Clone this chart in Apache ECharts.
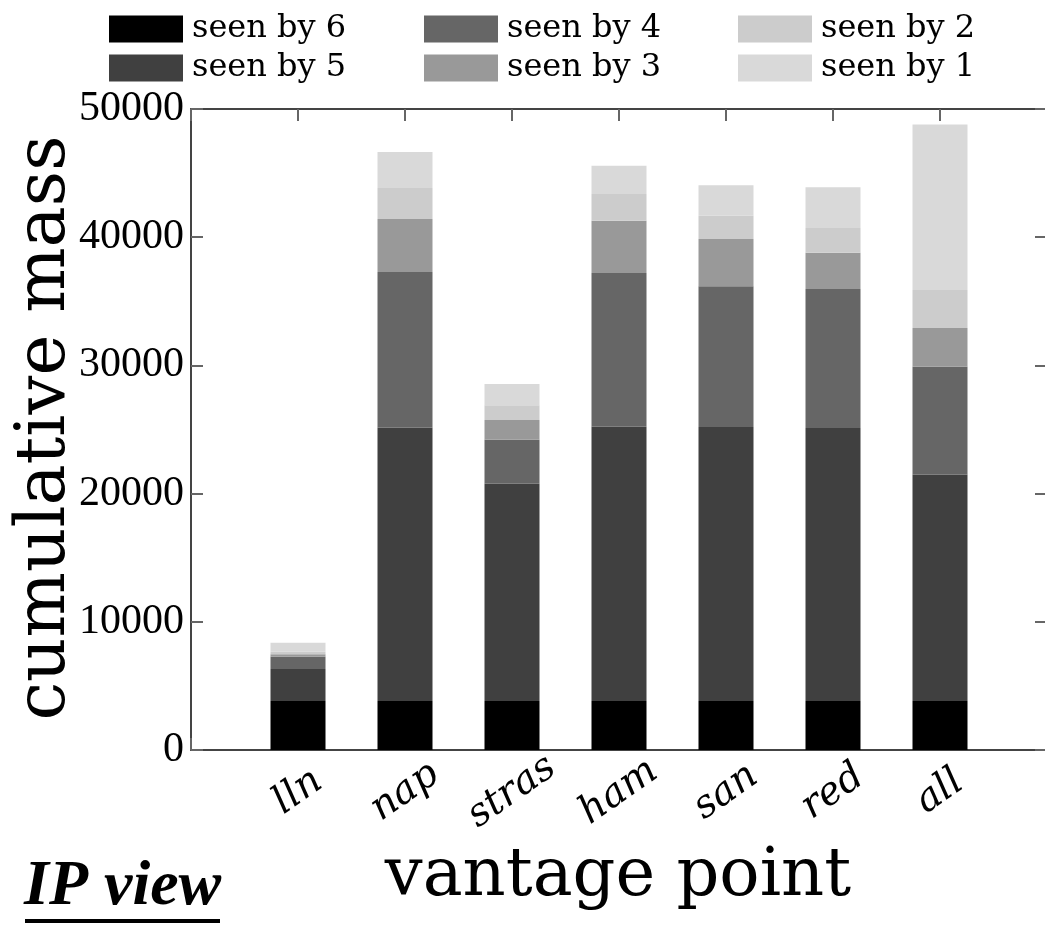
<!DOCTYPE html>
<html>
<head>
<meta charset="utf-8">
<script src="https://cdn.jsdelivr.net/npm/echarts@6/dist/echarts.min.js"></script>
<style>html,body{margin:0;padding:0;background:#fff;overflow:hidden}#c{width:1045px;height:927px}</style>
</head>
<body>
<div id="c"></div>
<script>
const categories = ['lln', 'nap', 'stras', 'ham', 'san', 'red', 'all'];
const seenBy6 = [3820, 3820, 3820, 3820, 3820, 3820, 3820];
const seenBy5 = [2490, 21320, 16950, 21400, 21380, 21300, 17660];
const seenBy4 = [960, 12145, 3430, 11990, 10970, 10840, 8420];
const seenBy3 = [190, 4135, 1540, 4080, 3690, 2830, 3020];
const seenBy2 = [200, 2420, 1150, 2080, 1820, 1930, 2960];
const seenBy1 = [700, 2805, 1660, 2210, 2370, 3170, 12920];
const yTicks = [0, 10000, 20000, 30000, 40000, 50000];

const seriesDefs = [
  ['seen by 6', seenBy6, '#000000'],
  ['seen by 5', seenBy5, '#404040'],
  ['seen by 4', seenBy4, '#666666'],
  ['seen by 3', seenBy3, '#999999'],
  ['seen by 2', seenBy2, '#cccccc'],
  ['seen by 1', seenBy1, '#d9d9d9']
];
const padded = ['', ...categories, ''];
const pad = arr => [null, ...arr, null];

const serif = 'DejaVu Serif';
const axisLineStyle = { color: '#444', width: 2 };
const tickStyle = { color: '#666', width: 2 };

const legendBase = (left, names) => ({
  orient: 'vertical', left: left, top: 13, padding: 0,
  itemWidth: 74, itemHeight: 27, itemGap: 7, icon: 'rect',
  data: names, selectedMode: false,
  textStyle: { fontFamily: serif, fontSize: 32, color: '#000', padding: [0, 0, 0, 4] }
});

const chart = echarts.init(document.getElementById('c'), null, { renderer: 'canvas' });
chart.setOption({
  animation: false,
  backgroundColor: '#fff',
  legend: [
    legendBase(109, ['seen by 6', 'seen by 5']),
    legendBase(424, ['seen by 4', 'seen by 3']),
    legendBase(738, ['seen by 2', 'seen by 1'])
  ],
  grid: { left: 191, top: 109, right: -2, bottom: 177, containLabel: false, outerBoundsMode: 'none' },
  xAxis: [{
    type: 'category', data: padded, boundaryGap: false, position: 'bottom',
    axisLine: { onZero: false, lineStyle: axisLineStyle },
    axisTick: { inside: true, length: 12, lineStyle: tickStyle },
    axisLabel: {
      interval: 0, rotate: 35, align: 'center', verticalAlign: 'middle', margin: 42,
      fontFamily: serif, fontStyle: 'italic', fontSize: 39, color: '#000'
    },
    splitLine: { show: false }
  }, {
    type: 'category', data: padded, boundaryGap: false, position: 'top',
    axisLine: { onZero: false, lineStyle: axisLineStyle },
    axisTick: { inside: true, length: 12, lineStyle: tickStyle },
    axisLabel: { show: false }, splitLine: { show: false }
  }],
  yAxis: [{
    type: 'value', min: 0, max: 50000, interval: 10000, position: 'left',
    axisLine: { show: true, onZero: false, lineStyle: axisLineStyle },
    axisTick: { show: true, inside: true, length: 12, lineStyle: tickStyle },
    axisLabel: {
      margin: 7, fontFamily: 'Liberation Serif', fontSize: 42, color: '#000',
      formatter: v => yTicks.includes(v) ? String(v) : ''
    },
    splitLine: { show: false }
  }, {
    type: 'value', min: 0, max: 50000, interval: 10000, position: 'right',
    axisLine: { show: true, onZero: false, lineStyle: axisLineStyle },
    axisTick: { show: true, inside: true, length: 12, lineStyle: tickStyle },
    axisLabel: { show: false }, splitLine: { show: false }
  }],
  series: seriesDefs.map(([name, data, color]) => ({
    name, type: 'bar', stack: 'total', data: pad(data), barWidth: 55,
    xAxisIndex: 0, yAxisIndex: 0,
    itemStyle: { color: color },
    emphasis: { disabled: true }
  })),
  graphic: [
    { type: 'text', x: 46, y: 428, rotation: Math.PI / 2,
      style: { text: 'cumulative mass', fontFamily: serif, fontSize: 69, fill: '#000', align: 'center', verticalAlign: 'middle' } },
    { type: 'text', x: 618, y: 878,
      style: { text: 'vantage point', fontFamily: serif, fontSize: 67, fill: '#000', align: 'center', verticalAlign: 'middle' } },
    { type: 'text', x: 24, y: 887,
      style: { text: 'IP view', fontFamily: 'Liberation Serif', fontWeight: 'bold', fontStyle: 'italic', fontSize: 64, fill: '#000', align: 'left', verticalAlign: 'middle' } },
    { type: 'rect', shape: { x: 25, y: 919, width: 195, height: 4 }, style: { fill: '#000' } }
  ]
});
</script>
</body>
</html>
